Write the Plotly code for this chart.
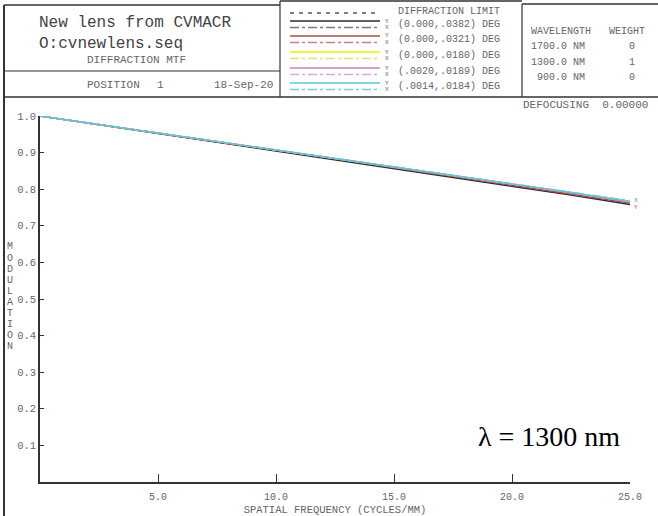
import plotly.graph_objects as go

# ---------------- data ----------------
freq = [0, 2.5, 5, 7.5, 10, 12.5, 15, 17.5, 20, 22.5, 25]
diff_limit = [1.0, 0.977, 0.954, 0.931, 0.908, 0.885, 0.862, 0.839, 0.815, 0.791, 0.767]
f1_y = [1.0, 0.976, 0.952, 0.929, 0.905, 0.881, 0.857, 0.833, 0.809, 0.784, 0.758]
f1_x = [1.0, 0.977, 0.953, 0.930, 0.907, 0.884, 0.860, 0.837, 0.813, 0.789, 0.765]
f2_y = [1.0, 0.976, 0.953, 0.930, 0.906, 0.883, 0.859, 0.835, 0.811, 0.787, 0.762]
f2_x = [1.0, 0.977, 0.954, 0.931, 0.908, 0.885, 0.861, 0.838, 0.815, 0.791, 0.767]
f3_y = [1.0, 0.977, 0.954, 0.931, 0.908, 0.885, 0.862, 0.838, 0.815, 0.791, 0.767]
f3_x = [1.0, 0.977, 0.954, 0.931, 0.908, 0.885, 0.862, 0.839, 0.816, 0.792, 0.768]
f4_y = [1.0, 0.977, 0.954, 0.931, 0.908, 0.885, 0.861, 0.838, 0.814, 0.790, 0.765]
f4_x = [1.0, 0.977, 0.954, 0.931, 0.908, 0.885, 0.862, 0.839, 0.816, 0.792, 0.768]
f5_y = [1.0, 0.977, 0.954, 0.931, 0.908, 0.885, 0.862, 0.838, 0.815, 0.791, 0.766]
f5_x = [1.0, 0.977, 0.954, 0.931, 0.908, 0.885, 0.862, 0.839, 0.816, 0.793, 0.769]

field_labels = ["(0.000,.0382) DEG", "(0.000,.0321) DEG", "(0.000,.0180) DEG",
                "(.0020,.0189) DEG", "(.0014,.0184) DEG"]
y_tickvals = [0.1, 0.2, 0.3, 0.4, 0.5, 0.6, 0.7, 0.8, 0.9, 1.0]
x_tickvals = [5, 10, 15, 20, 25]
wavelengths = ["1700.0 NM", "1300.0 NM", " 900.0 NM"]
weights = ["0", "1", "0"]

# ---------------- styling ----------------
W, H = 658, 516
L, R, T, B = 40, 28, 116, 34
MONO = "Courier New, Liberation Mono, monospace"
SERIF = "Liberation Serif, Times New Roman, serif"
AX = "#333333"
TXT = "#666666"

colors_y = ["#2b2b2b", "#b04a4a", "#f2ee00", "#d27cc4", "#5cc6e0"]
colors_x = ["#7a7a7a", "#c98080", "#efe06a", "#e0a6d6", "#70d0e6"]


def px(x):
    return (x - L) / (W - L - R)


def py(y):
    return (H - B - y) / (H - T - B)


fig = go.Figure()

series_y = [f1_y, f2_y, f3_y, f4_y, f5_y]
series_x = [f1_x, f2_x, f3_x, f4_x, f5_x]

fig.add_trace(go.Scatter(x=freq, y=diff_limit, mode="lines", cliponaxis=False,
                         line=dict(color="#000000", width=1.1, dash="4px,4px"),
                         name="Diffraction limit"))
for i in range(5):
    fig.add_trace(go.Scatter(x=freq, y=series_x[i], mode="lines", cliponaxis=False,
                             line=dict(color=colors_x[i], width=1.2, dash="dashdot"),
                             name=field_labels[i] + " X"))
    fig.add_trace(go.Scatter(x=freq, y=series_y[i], mode="lines", cliponaxis=False,
                             line=dict(color=colors_y[i], width=1.4),
                             name=field_labels[i] + " Y"))

shapes = []
annotations = []


def hline(x0, x1, y, color=AX, width=1.5, dash="solid"):
    shapes.append(dict(type="line", xref="paper", yref="paper",
                       x0=px(x0), x1=px(x1), y0=py(y), y1=py(y),
                       line=dict(color=color, width=width, dash=dash)))


def vline(x, y0, y1, color=AX, width=1.5):
    shapes.append(dict(type="line", xref="paper", yref="paper",
                       x0=px(x), x1=px(x), y0=py(y0), y1=py(y1),
                       line=dict(color=color, width=width)))


def text(x, y, s, size=10.5, color=TXT, anchor="left", family=MONO):
    annotations.append(dict(xref="paper", yref="paper", x=px(x), y=py(y), text=s,
                            showarrow=False, xanchor=anchor, yanchor="middle",
                            font=dict(family=family, size=size, color=color)))


# frame / header boxes
vline(4, 5, 516, width=2)
hline(4, 280, 5, width=1.5)
hline(280, 522, 1, width=1.5)
hline(522, 658, 4, width=1.5)
hline(4, 658, 97, width=1.5)
hline(4, 280, 71, width=1.2)
vline(280, 1, 97, width=1.2)
vline(522, 4, 97, width=1.2)

# header left box
text(37, 23, "New lens from CVMACR", size=16, color="#444444")
text(37, 44, "O:cvnewlens.seq", size=16, color="#444444")
text(85, 60, "DIFFRACTION MTF", size=11, color=TXT)
text(85, 85, "POSITION", size=11, color=TXT)
text(155, 85, "1", size=11, color=TXT)
text(212, 85, "18-Sep-20", size=11, color=TXT)

# legend box
hline(290, 380, 13, color="#000000", width=1.2, dash="4px,5px")
text(396, 12, "DIFFRACTION LIMIT", size=10, color=TXT)
row_y = [21, 36, 52, 68, 83]
for i in range(5):
    y0 = row_y[i]
    hline(290, 380, y0, color=colors_y[i], width=1.5)
    hline(290, 380, y0 + 6.5, color=colors_x[i], width=1.5, dash="dashdot")
    text(383, y0, "Y", size=6, color=TXT)
    text(383, y0 + 6.5, "X", size=6, color=TXT)
    text(396, y0 + 3.5, field_labels[i], size=10, color=TXT)

# wavelength box
text(529, 32, "WAVELENGTH", size=10, color=TXT)
text(607, 32, "WEIGHT", size=10, color=TXT)
for i in range(3):
    text(529, 47 + 15 * i, wavelengths[i], size=10, color=TXT)
    text(632, 47 + 15 * i, weights[i], size=10, color=TXT, anchor="center")

text(650, 105, "DEFOCUSING  0.00000", size=11, color=TXT, anchor="right")

# vertical axis title
for k, ch in enumerate("MODULATION"):
    text(10, 247 + 11 * k, ch, size=10, color=TXT, anchor="center")

# end-of-line X / Y tags
text(632, 200, "X", size=6, color="#7a7a7a")
text(632, 207, "Y", size=6, color="#b04a4a")

# wavelength label
text(476, 436, "λ = 1300 nm", size=28, color="#000000", family=SERIF)

fig.update_layout(
    width=W, height=H,
    margin=dict(l=L, r=R, t=T, b=B, pad=0, autoexpand=False),
    paper_bgcolor="white", plot_bgcolor="white",
    showlegend=False,
    shapes=shapes, annotations=annotations,
    xaxis=dict(range=[0, 25], showgrid=False, zeroline=False, showline=True,
               automargin=False,
               linecolor=AX, linewidth=1.5, ticks="inside", ticklen=8,
               tickcolor=AX, tickwidth=1.2, tickvals=x_tickvals,
               ticktext=[f"{v:.1f}" for v in x_tickvals],
               ticklabelstandoff=4,
               tickfont=dict(family=MONO, size=10, color=TXT),
               title=dict(text="SPATIAL FREQUENCY (CYCLES/MM)",
                          font=dict(family=MONO, size=10.5, color=TXT), standoff=4)),
    yaxis=dict(range=[0, 1], showgrid=False, zeroline=False, showline=True,
               automargin=False,
               linecolor=AX, linewidth=1.5, ticks="inside", ticklen=4,
               tickcolor=AX, tickwidth=1.2, tickvals=y_tickvals,
               ticktext=[f"{v:.1f}" for v in y_tickvals],
               tickfont=dict(family=MONO, size=10.5, color=TXT)),
)

fig.write_html("out.html")
